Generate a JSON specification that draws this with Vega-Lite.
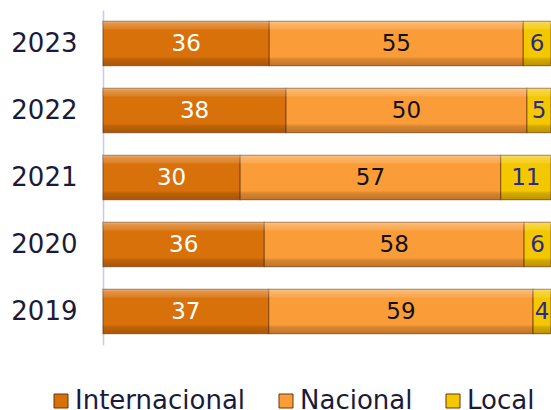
{
  "$schema": "https://vega.github.io/schema/vega-lite/v6.json",
  "width": 448,
  "height": 335,
  "autosize": "none",
  "padding": {"left": 103, "top": 10, "right": 0, "bottom": 65},
  "background": "white",
  "config": {"view": {"stroke": null}, "font": "DejaVu Sans"},
  "data": {
    "values": [
      {"year": "2023", "cat": "Internacional", "k": 1, "value": 36},
      {"year": "2023", "cat": "Nacional", "k": 2, "value": 55},
      {"year": "2023", "cat": "Local", "k": 3, "value": 6},
      {"year": "2022", "cat": "Internacional", "k": 1, "value": 38},
      {"year": "2022", "cat": "Nacional", "k": 2, "value": 50},
      {"year": "2022", "cat": "Local", "k": 3, "value": 5},
      {"year": "2021", "cat": "Internacional", "k": 1, "value": 30},
      {"year": "2021", "cat": "Nacional", "k": 2, "value": 57},
      {"year": "2021", "cat": "Local", "k": 3, "value": 11},
      {"year": "2020", "cat": "Internacional", "k": 1, "value": 36},
      {"year": "2020", "cat": "Nacional", "k": 2, "value": 58},
      {"year": "2020", "cat": "Local", "k": 3, "value": 6},
      {"year": "2019", "cat": "Internacional", "k": 1, "value": 37},
      {"year": "2019", "cat": "Nacional", "k": 2, "value": 59},
      {"year": "2019", "cat": "Local", "k": 3, "value": 4}
    ]
  },
  "transform": [
    {"stack": "value", "groupby": ["year"], "sort": [{"field": "k", "order": "ascending"}], "offset": "normalize", "as": ["x0", "x1"]},
    {"calculate": "(datum.x0 + datum.x1) / 2", "as": "xm"}
  ],
  "encoding": {
    "y": {
      "field": "year",
      "type": "ordinal",
      "sort": "descending",
      "scale": {"paddingInner": 0.34, "paddingOuter": 0.17},
      "axis": {
        "title": null,
        "ticks": false,
        "grid": false,
        "labelFontSize": 26,
        "labelColor": "#1a1a3a",
        "labelPadding": 26,
        "domainColor": "#c8c8f0",
        "domainWidth": 1.5
      }
    }
  },
  "layer": [
    {
      "mark": {"type": "bar", "stroke": "#6a3404", "strokeWidth": 1.2, "strokeOpacity": 0.6},
      "encoding": {
        "x": {"field": "x0", "type": "quantitative", "scale": {"domain": [0, 1]}, "axis": null},
        "x2": {"field": "x1"},
        "color": {
          "field": "cat",
          "type": "nominal",
          "scale": {"domain": ["Internacional", "Nacional", "Local"], "range": ["#D9710A", "#FA9D38", "#F4C800"]},
          "legend": {
            "orient": "none",
            "legendX": -55,
            "legendY": 378,
            "direction": "horizontal",
            "title": null,
            "symbolType": "square",
            "symbolSize": 196,
            "symbolStrokeColor": "#6a3404",
            "symbolStrokeWidth": 1,
            "symbolOpacity": 1,
            "labelFontSize": 26,
            "labelLimit": 400,
            "labelColor": "#1a1a3a",
            "labelFont": "DejaVu Sans",
            "columnPadding": 27,
            "labelOffset": 1
          }
        }
      }
    },
    {
      "mark": {
        "type": "bar",
        "strokeWidth": 0,
        "fill": {
          "gradient": "linear",
          "x1": 0, "y1": 0, "x2": 0, "y2": 1,
          "stops": [
            {"offset": 0, "color": "rgba(255,235,200,0.55)"},
            {"offset": 0.05, "color": "rgba(255,255,255,0.25)"},
            {"offset": 0.16, "color": "rgba(255,255,255,0.12)"},
            {"offset": 0.2, "color": "rgba(255,255,255,0)"},
            {"offset": 0.8, "color": "rgba(0,0,0,0)"},
            {"offset": 0.86, "color": "rgba(60,25,0,0.18)"},
            {"offset": 1, "color": "rgba(60,25,0,0.3)"}
          ]
        }
      },
      "encoding": {
        "x": {"field": "x0", "type": "quantitative"},
        "x2": {"field": "x1"}
      }
    },
    {
      "mark": {"type": "text", "fontSize": 23, "font": "DejaVu Sans", "align": "center", "baseline": "middle"},
      "encoding": {
        "x": {"field": "xm", "type": "quantitative"},
        "text": {"field": "value"},
        "color": {
          "condition": [
            {"test": "datum.cat === 'Internacional'", "value": "#ffffff"},
            {"test": "datum.cat === 'Nacional'", "value": "#111111"}
          ],
          "value": "#2b2b85"
        }
      }
    }
  ]
}
